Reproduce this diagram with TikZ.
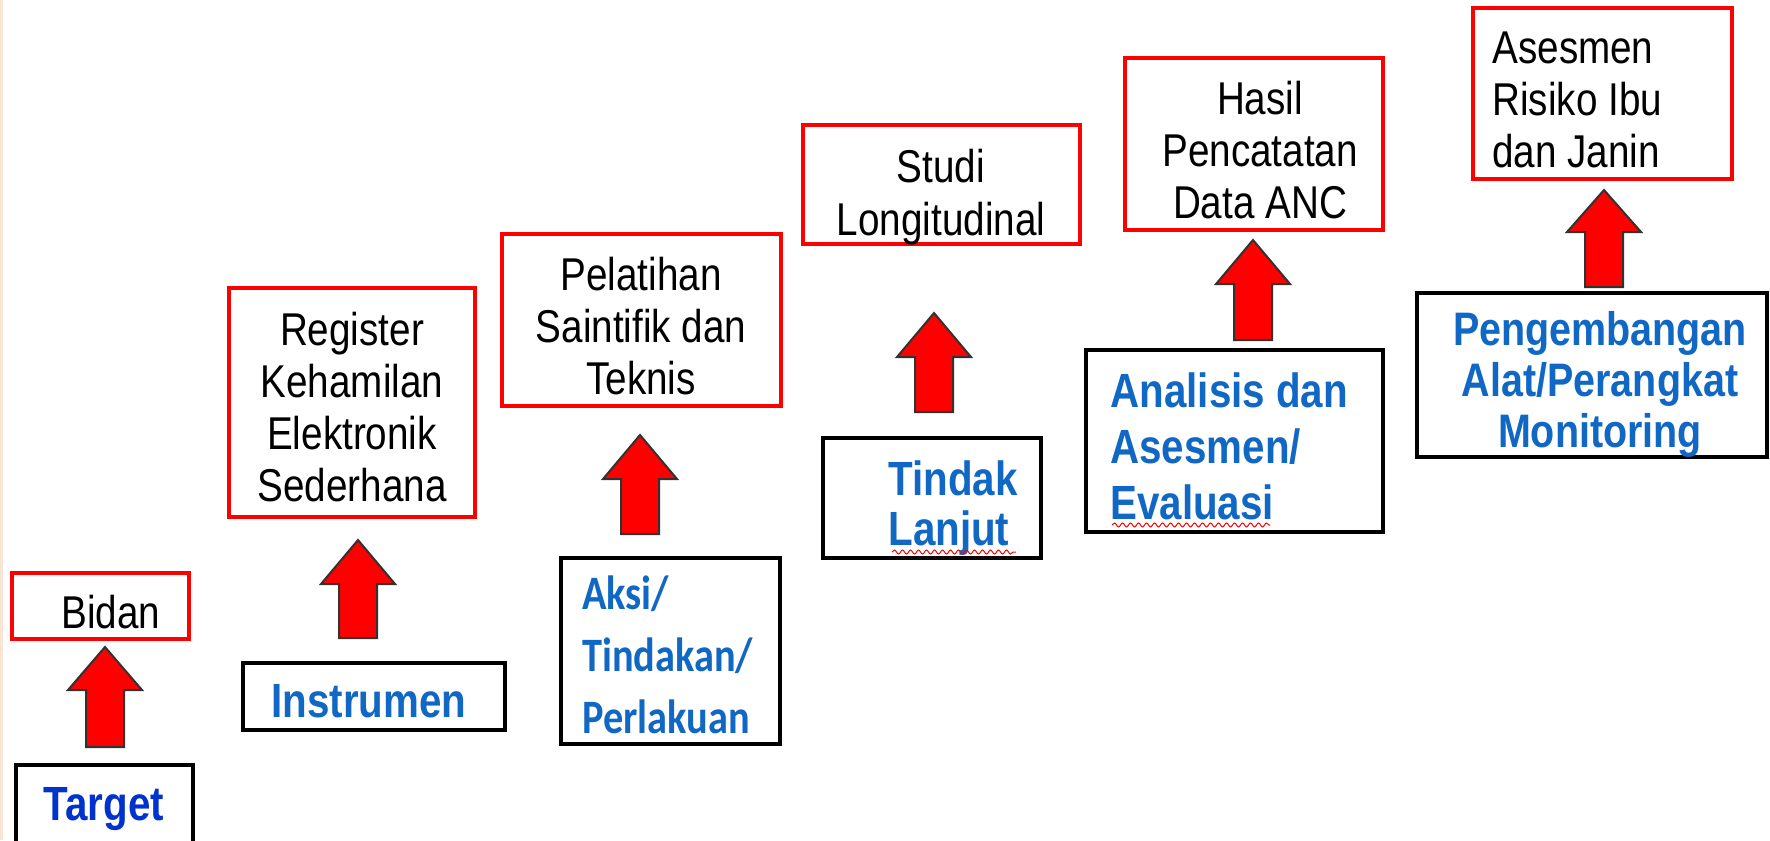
\documentclass[tikz,border=0pt]{standalone}
\usepackage{fontspec}
\newfontfamily\arialN[FakeStretch=0.84]{Liberation Sans}
\newfontfamily\caliN[FakeStretch=0.84]{Carlito}
\usetikzlibrary{fit,decorations.pathmorphing}
\definecolor{boxred}{RGB}{255,0,0}
\definecolor{arrowred}{RGB}{255,0,0}
\definecolor{arrowedge}{RGB}{50,50,50}
\definecolor{darkblue}{RGB}{0,51,204}
\definecolor{midblue}{RGB}{16,104,196}
\definecolor{edgepeach}{RGB}{250,228,212}
\newcommand{\uparrowat}[4]{%
  \draw[uparrow] (#1,#2) -- (#1+37,#3) -- (#1+19,#3) -- (#1+19,#4) -- (#1-19,#4) -- (#1-19,#3) -- (#1-37,#3) -- cycle;}
\begin{document}
\begin{tikzpicture}[x=0.5pt,y=-0.5pt,
  redbox/.style={draw=boxred,line width=1.6pt,inner sep=0pt},
  blackbox/.style={draw=black,line width=2pt,inner sep=0pt},
  blktxt/.style={inner sep=0pt,text=black,font=\arialN\fontsize{23}{26}\selectfont},
  bluetxt/.style={inner sep=0pt,text=midblue,font=\arialN\bfseries\fontsize{24}{25}\selectfont},
  uparrow/.style={fill=arrowred,draw=arrowedge,line width=1pt,line join=miter},
  squiggle/.style={draw=red,line width=0.5pt,decorate,decoration={snake,amplitude=1pt,segment length=4pt}}]
\useasboundingbox (0,0) rectangle (1770,840);
\clip (0,0) rectangle (1770,840);
\fill[white] (0,0) rectangle (1770,840);
\fill[edgepeach] (0,0) rectangle (3,840);

% boxes
\node[redbox,fit={(12,573) (189,639)}] (bidan) {};
\node[blackbox,fit={(16,765) (193,850)}] (target) {};
\node[blackbox,fit={(243,663) (505,730)}] (instrumen) {};
\node[redbox,fit={(229,288) (475,517)}] (register) {};
\node[blackbox,fit={(561,558) (780,744)}] (aksi) {};
\node[redbox,fit={(502,234) (781,406)}] (pelatihan) {};
\node[blackbox,fit={(823,438) (1041,558)}] (tindak) {};
\node[redbox,fit={(803,125) (1080,244)}] (studi) {};
\node[blackbox,fit={(1086,350) (1383,532)}] (analisis) {};
\node[redbox,fit={(1125,58) (1383,230)}] (hasil) {};
\node[blackbox,fit={(1417,293) (1767,457)}] (pengembangan) {};
\node[redbox,fit={(1473,8) (1732,179)}] (asesmen) {};

% texts
\node[blktxt,anchor=north west] (tbidan) at (61,595) {Bidan};
\node[bluetxt,text=darkblue,anchor=north] (ttarget) at (104,787) {Target};
\node[bluetxt,anchor=north west] (tinstrumen) at (271,684) {Instrumen};
\node[blktxt,anchor=north,align=center] (tregister) at (352,312) {Register\\Kehamilan\\Elektronik\\Sederhana};
\node[blktxt,anchor=north,align=center] (tpelatihan) at (641,257) {Pelatihan\\Saintifik dan\\Teknis};
\node[inner sep=0pt,text=midblue,font=\caliN\bfseries\fontsize{24}{31}\selectfont,anchor=north west,align=left] (taksi) at (582,575) {Aksi/\\Tindakan/\\Perlakuan};
\node[blktxt,font=\arialN\fontsize{23}{26.5}\selectfont,anchor=north,align=center] (tstudi) at (941,149) {Studi\\Longitudinal};
\node[bluetxt,anchor=north west,align=left] (ttindak) at (888,460) {Tindak\\Lanjut};
\node[blktxt,anchor=north,align=center] (thasil) at (1260,81) {Hasil\\Pencatatan\\Data ANC};
\node[bluetxt,font=\arialN\bfseries\fontsize{24}{28}\selectfont,anchor=north west,align=left] (tanalisis) at (1110,372) {Analisis dan\\Asesmen/\\Evaluasi};
\node[blktxt,anchor=north west,align=left] (tasesmen) at (1492,31) {Asesmen\\Risiko Ibu\\dan Janin};
\node[bluetxt,font=\arialN\bfseries\fontsize{23.5}{25.5}\selectfont,anchor=north,align=center] (tpeng) at (1600,311) {Pengembangan\\Alat/Perangkat\\Monitoring};

% spell-check squiggles
\draw[squiggle] (892,552) -- (1016,552);
\draw[squiggle] (1112,525) -- (1270,525);

% block arrows
\uparrowat{105}{647}{690}{747}
\uparrowat{358}{540}{584}{638}
\uparrowat{640}{435}{479}{534}
\uparrowat{934}{313}{357}{412}
\uparrowat{1253}{240}{284}{340}
\uparrowat{1604}{190}{232}{287}
\end{tikzpicture}
\end{document}
